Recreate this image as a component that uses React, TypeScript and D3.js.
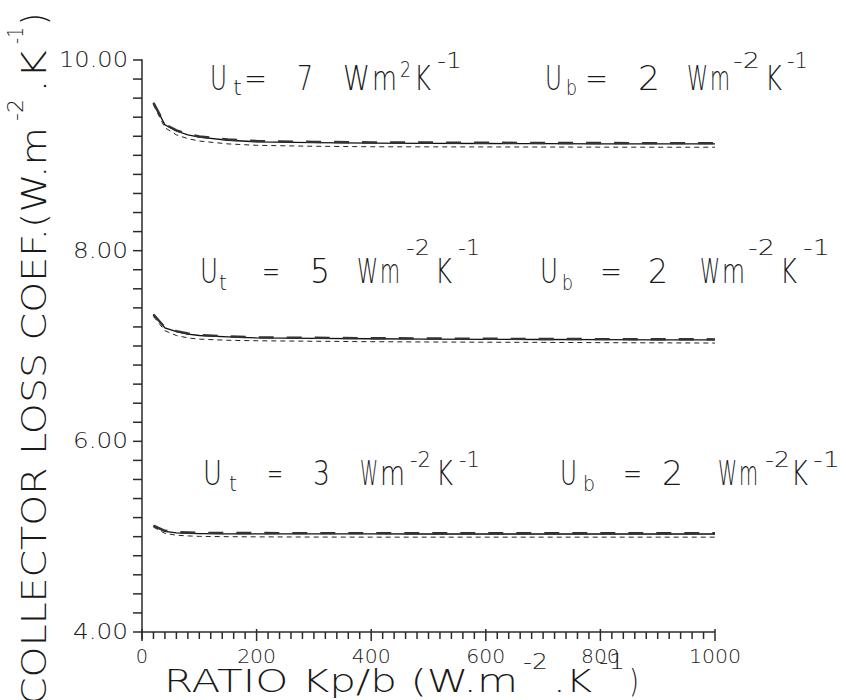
import React from "react";
import * as d3 from "d3";

// Kp/b values (W.m-2.K-1)
const ratios = [20, 40, 60, 80, 100, 150, 200, 300, 400, 500, 600, 700, 800, 900, 1000];

// Ut = 7
const ut7Solid = [9.55, 9.32, 9.255, 9.215, 9.19, 9.158, 9.142, 9.133, 9.128, 9.126, 9.124, 9.122, 9.121, 9.12, 9.12];
const ut7Heavy = [9.55, 9.325, 9.262, 9.223, 9.198, 9.166, 9.15, 9.141, 9.136, 9.134, 9.132, 9.13, 9.129, 9.128, 9.128];
const ut7Thin = [9.53, 9.29, 9.215, 9.175, 9.15, 9.12, 9.105, 9.095, 9.09, 9.089, 9.088, 9.087, 9.086, 9.085, 9.085];
// Ut = 5
const ut5Solid = [7.33, 7.19, 7.15, 7.125, 7.11, 7.095, 7.085, 7.08, 7.076, 7.073, 7.07, 7.068, 7.066, 7.065, 7.064];
const ut5Heavy = [7.33, 7.195, 7.156, 7.131, 7.116, 7.101, 7.091, 7.086, 7.082, 7.079, 7.076, 7.074, 7.072, 7.071, 7.07];
const ut5Thin = [7.31, 7.16, 7.11, 7.085, 7.072, 7.06, 7.055, 7.05, 7.045, 7.042, 7.04, 7.038, 7.035, 7.033, 7.031];
// Ut = 3
const ut3Solid = [5.11, 5.055, 5.04, 5.035, 5.032, 5.03, 5.03, 5.029, 5.029, 5.028, 5.028, 5.028, 5.028, 5.028, 5.028];
const ut3Heavy = [5.115, 5.062, 5.048, 5.043, 5.04, 5.038, 5.038, 5.037, 5.037, 5.036, 5.036, 5.036, 5.036, 5.036, 5.036];
const ut3Thin = [5.1, 5.035, 5.015, 5.008, 5.003, 5.0, 4.998, 4.996, 4.995, 4.995, 4.995, 4.995, 4.995, 4.995, 4.995];

const solidSeries = [ut7Solid, ut5Solid, ut3Solid];
const heavySeries = [ut7Heavy, ut5Heavy, ut3Heavy];
const thinSeries = [ut7Thin, ut5Thin, ut3Thin];

const yMajorTicks = [4, 6, 8, 10];
const xMajorTicks = [0, 200, 400, 600, 800, 1000];

type Seg = { t: string; x0: number; x1: number; k: "n" | "sub" | "sup"; y?: number };
type Row = { base: number; sub: number; sup: number; segs: Seg[] };

const annotations: Row[] = [
  {
    base: 90, sub: 95, sup: 72,
    segs: [
      { t: "U", x0: 210, x1: 227, k: "n" },
      { t: "t", x0: 233, x1: 242, k: "sub" },
      { t: "=", x0: 244, x1: 267, k: "n" },
      { t: "7", x0: 297, x1: 313, k: "n" },
      { t: "W", x0: 343, x1: 370, k: "n" },
      { t: "m", x0: 372, x1: 397, k: "n" },
      { t: "2", x0: 400, x1: 411, k: "sup", y: 77 },
      { t: "K", x0: 414, x1: 431, k: "n" },
      { t: "-1", x0: 437, x1: 462, k: "sup", y: 68 },
      { t: "U", x0: 545, x1: 562, k: "n" },
      { t: "b", x0: 566, x1: 577, k: "sub" },
      { t: "=", x0: 585, x1: 608, k: "n" },
      { t: "2", x0: 638, x1: 660, k: "n" },
      { t: "W", x0: 687, x1: 708, k: "n" },
      { t: "m", x0: 710, x1: 730, k: "n" },
      { t: "-2", x0: 733, x1: 760, k: "sup", y: 68 },
      { t: "K", x0: 765, x1: 782, k: "n" },
      { t: "-1", x0: 787, x1: 808, k: "sup", y: 68 },
    ],
  },
  {
    base: 283, sub: 290, sup: 255,
    segs: [
      { t: "U", x0: 200, x1: 218, k: "n" },
      { t: "t", x0: 219, x1: 227, k: "sub" },
      { t: "=", x0: 262, x1: 280, k: "n" },
      { t: "5", x0: 310, x1: 330, k: "n" },
      { t: "W", x0: 357, x1: 378, k: "n" },
      { t: "m", x0: 380, x1: 400, k: "n" },
      { t: "-2", x0: 406, x1: 430, k: "sup" },
      { t: "K", x0: 435, x1: 452, k: "n" },
      { t: "-1", x0: 458, x1: 480, k: "sup" },
      { t: "U", x0: 540, x1: 558, k: "n" },
      { t: "b", x0: 562, x1: 573, k: "sub" },
      { t: "=", x0: 600, x1: 622, k: "n" },
      { t: "2", x0: 648, x1: 668, k: "n" },
      { t: "W", x0: 700, x1: 720, k: "n" },
      { t: "m", x0: 722, x1: 745, k: "n" },
      { t: "-2", x0: 748, x1: 775, k: "sup" },
      { t: "K", x0: 780, x1: 797, k: "n" },
      { t: "-1", x0: 803, x1: 830, k: "sup" },
    ],
  },
  {
    base: 485, sub: 491, sup: 467,
    segs: [
      { t: "U", x0: 203, x1: 222, k: "n" },
      { t: "t", x0: 229, x1: 237, k: "sub" },
      { t: "=", x0: 267, x1: 283, k: "n" },
      { t: "3", x0: 313, x1: 330, k: "n" },
      { t: "W", x0: 360, x1: 378, k: "n" },
      { t: "m", x0: 380, x1: 405, k: "n" },
      { t: "-2", x0: 410, x1: 431, k: "sup" },
      { t: "K", x0: 436, x1: 453, k: "n" },
      { t: "-1", x0: 459, x1: 480, k: "sup" },
      { t: "U", x0: 560, x1: 577, k: "n" },
      { t: "b", x0: 583, x1: 595, k: "sub" },
      { t: "=", x0: 623, x1: 642, k: "n" },
      { t: "2", x0: 662, x1: 683, k: "n" },
      { t: "W", x0: 718, x1: 737, k: "n" },
      { t: "m", x0: 739, x1: 758, k: "n" },
      { t: "-2", x0: 765, x1: 790, k: "sup" },
      { t: "K", x0: 791, x1: 808, k: "n" },
      { t: "-1", x0: 813, x1: 840, k: "sup" },
    ],
  },
];

const FONT = "'DejaVu Sans', sans-serif";
const INK = "#1a1a1a";

function SegText({ s, base, sub, sup, nSize, sSize }: { s: Seg; base: number; sub: number; sup: number; nSize: number; sSize: number }) {
  const y = s.y ?? (s.k === "n" ? base : s.k === "sub" ? sub : sup);
  return (
    <text
      x={s.x0}
      y={y}
      fontSize={s.k === "n" ? nSize : sSize}
      textLength={s.x1 - s.x0}
      lengthAdjust="spacingAndGlyphs"
      fontFamily={FONT}
      fontWeight={200}
      fill={INK}
    >
      {s.t}
    </text>
  );
}

export default function App() {
  const W = 846, H = 700;
  const x = d3.scaleLinear().domain([0, 1000]).range([142, 715]);
  const y = d3.scaleLinear().domain([4, 10]).range([632, 60]);

  const line = d3
    .line<number>()
    .x((_, i) => x(ratios[i]))
    .y((v) => y(v));

  const yTicks = y.ticks(30);
  const xTicks = x.ticks(50);
  const fmtY = d3.format(".2f");

  const xLabel: Seg[] = [
    { t: "RATIO Kp/b (W.m", x0: 164, x1: 518, k: "n" },
    { t: "-2", x0: 523, x1: 548, k: "sup" },
    { t: ".K", x0: 553, x1: 592, k: "n" },
    { t: "-1", x0: 599, x1: 625, k: "sup" },
    { t: ")", x0: 629, x1: 639, k: "n" },
  ];
  // rotated frame: along-axis coordinate = -screenY
  const yLabel: Seg[] = [
    { t: "COLLECTOR LOSS COEF.(W.m", x0: -705, x1: -127, k: "n" },
    { t: "-2", x0: -121, x1: -99, k: "sup" },
    { t: ".K", x0: -93, x1: -50, k: "n" },
    { t: "-1", x0: -44, x1: -27, k: "sup" },
    { t: ")", x0: -25, x1: -13, k: "n" },
  ];

  const axisX = x(0);
  const axisY = y(4);
  const AX = "#2b2b2b";
  const AW = 1.5;

  return (
    <svg width={W} height={H} style={{ position: "absolute", left: 0, top: 0, background: "#fff" }}>
      <rect x={0} y={0} width={W} height={H} fill="#fff" />
      {/* Y axis */}
      <rect x={axisX - AW / 2} y={y(10) - AW / 2} width={AW} height={axisY + 8 - y(10)} fill={AX} />
      {yTicks.map((t) => (
        <rect key={"yt" + t} x={axisX - 9} y={y(t) - AW / 2} width={9} height={AW} fill={AX} />
      ))}
      {/* X axis */}
      <rect x={axisX} y={axisY - AW / 2} width={x(1000) - axisX} height={AW} fill={AX} />
      {xTicks.map((t) => {
        const major = t % 200 === 0;
        const top = axisY - (major ? 3 : 0);
        const bot = axisY + (major ? 9 : 7);
        return <rect key={"xt" + t} x={x(t) - AW / 2} y={top} width={AW} height={bot - top} fill={AX} />;
      })}
      {yMajorTicks.map((t) => {
        const s = fmtY(t);
        return (
          <text
            key={"yl" + t}
            x={128}
            y={y(t) + 7}
            textAnchor="end"
            fontSize={21}
            textLength={s.length * 14 - 1}
            lengthAdjust="spacingAndGlyphs"
            fontFamily={FONT}
            fontWeight={200}
            fill={INK}
          >
            {s}
          </text>
        );
      })}
      {xMajorTicks.map((t) => (
        <text
          key={"xl" + t}
          x={x(t)}
          y={663}
          textAnchor="middle"
          fontSize={20}
          textLength={String(t).length * 13.3 - 1}
          lengthAdjust="spacingAndGlyphs"
          fontFamily={FONT}
          fontWeight={200}
          fill={INK}
        >
          {t}
        </text>
      ))}

      {/* curves */}
      {thinSeries.map((s, i) => (
        <path key={"th" + i} d={line(s) || ""} fill="none" stroke="#222" strokeWidth={1} strokeDasharray="5 4" />
      ))}
      {solidSeries.map((s, i) => (
        <path key={"so" + i} d={line(s) || ""} fill="none" stroke="#111" strokeWidth={1.3} />
      ))}
      {heavySeries.map((s, i) => (
        <path key={"hv" + i} d={line(s) || ""} fill="none" stroke="#333" strokeWidth={2.4} strokeDasharray="15 13" />
      ))}

      {/* annotations */}
      {annotations.map((r, ri) =>
        r.segs.map((s, si) => (
          <SegText key={ri + "-" + si} s={s} base={r.base} sub={r.sub} sup={r.sup} nSize={34} sSize={22} />
        ))
      )}

      {/* axis titles */}
      {xLabel.map((s, i) => (
        <SegText key={"xlab" + i} s={s} base={692} sub={698} sup={669} nSize={32} sSize={21} />
      ))}
      <g transform="rotate(-90)">
        {yLabel.map((s, i) => (
          <SegText key={"ylab" + i} s={s} base={46} sub={52} sup={23} nSize={33} sSize={21} />
        ))}
      </g>
    </svg>
  );
}
